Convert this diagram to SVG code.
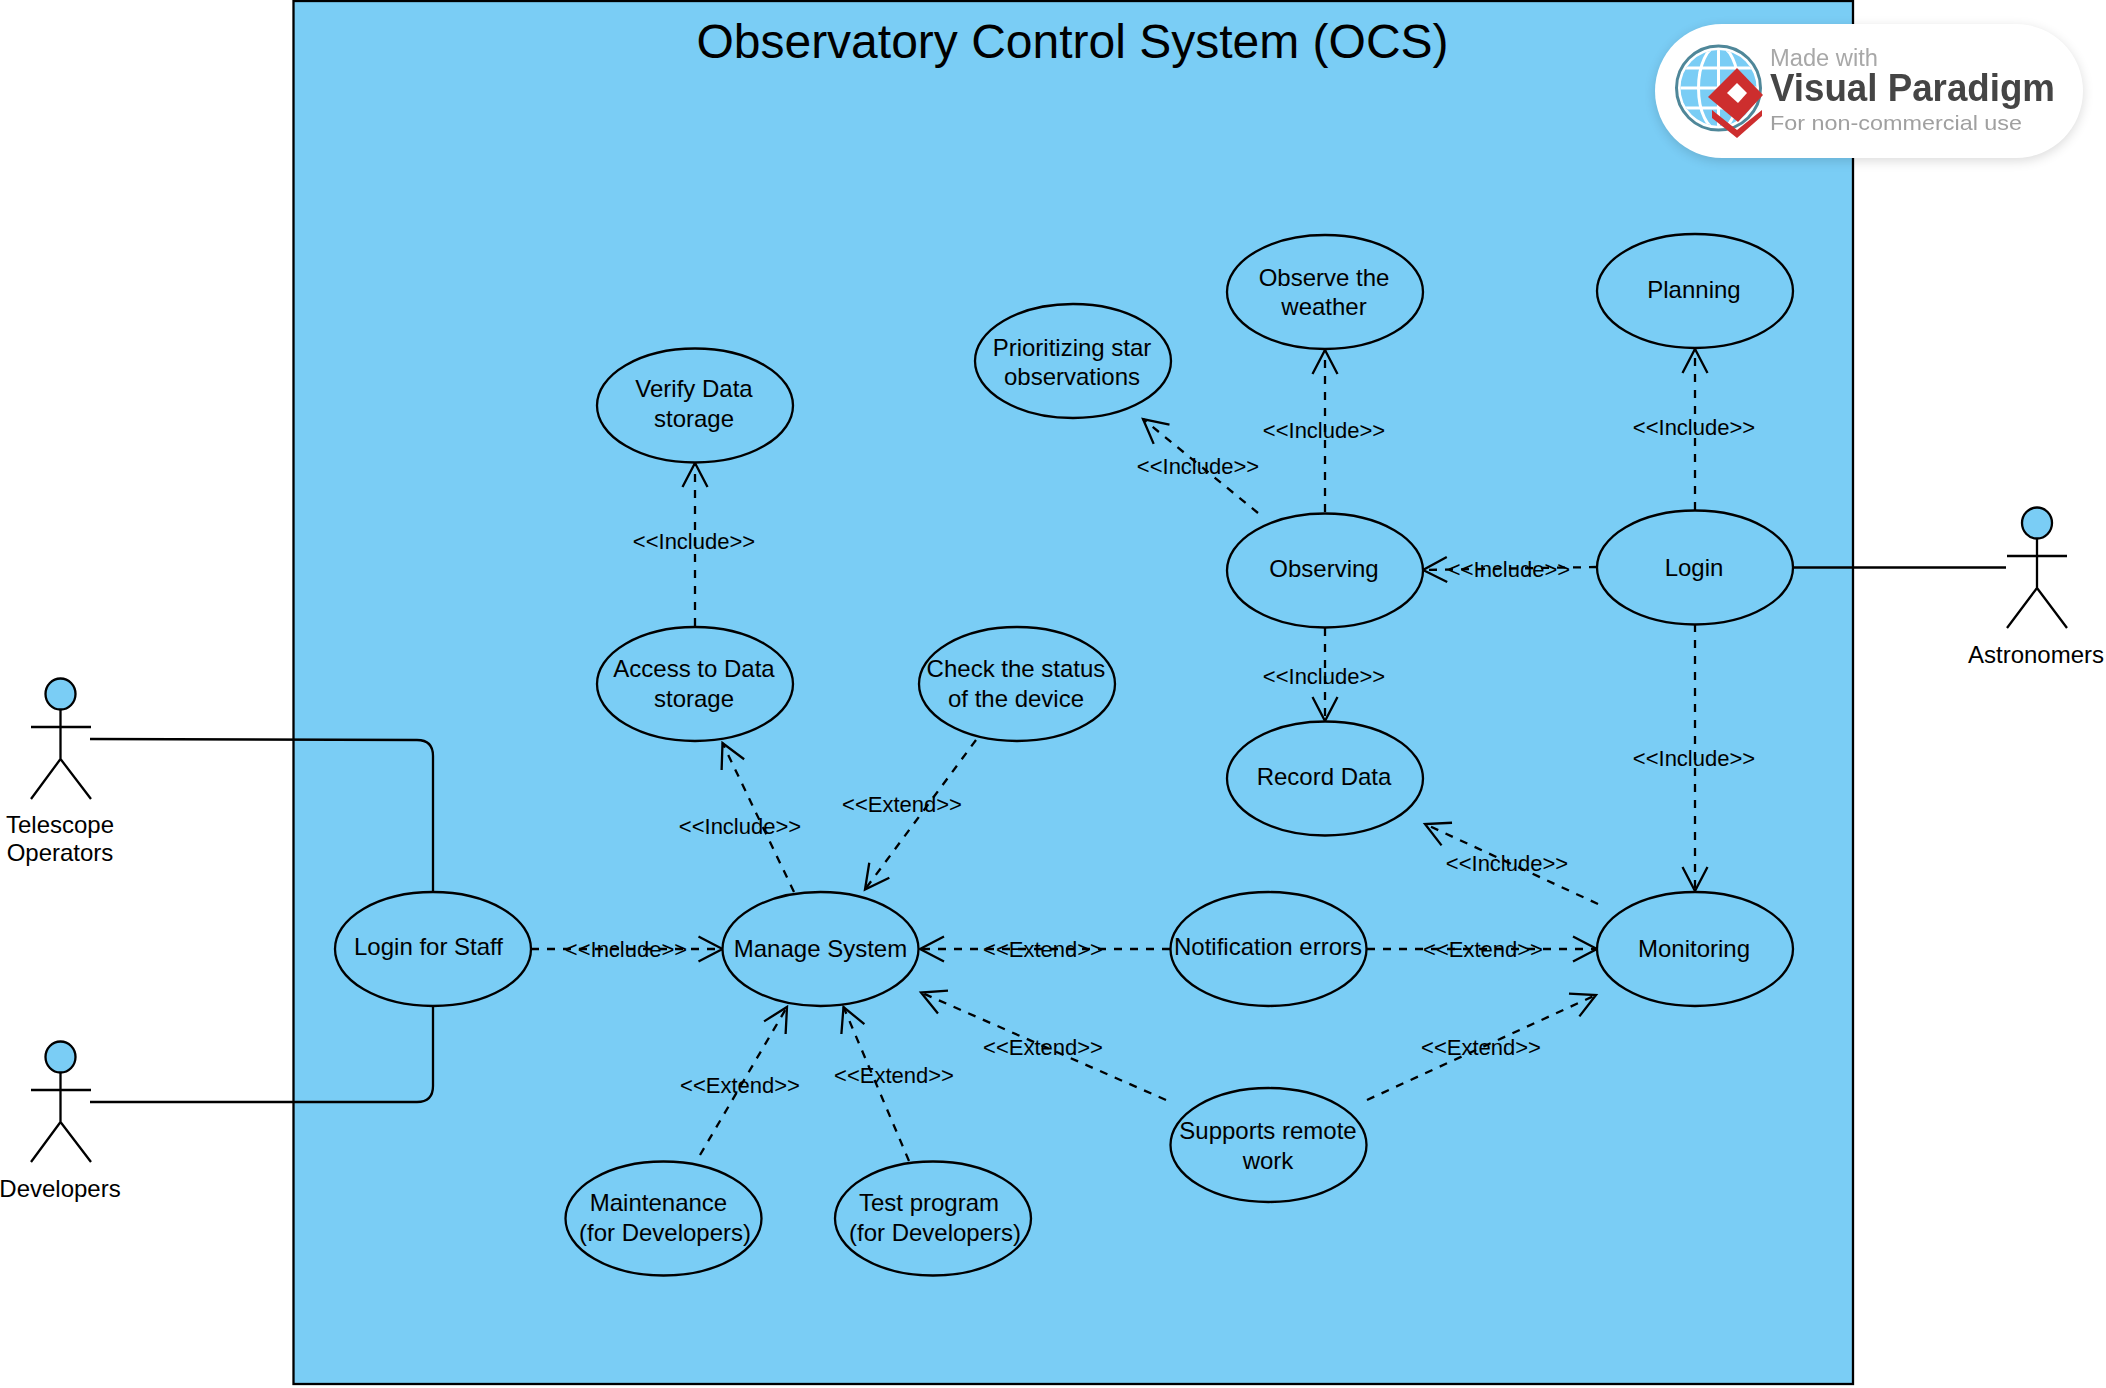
<svg xmlns="http://www.w3.org/2000/svg" width="2106" height="1388" viewBox="0 0 2106 1388">
<style>
text{font-family:"Liberation Sans",Arial,sans-serif;fill:#000;text-anchor:middle}
.n{font-size:24px}
.l{font-size:22px}
.uc ellipse{fill:#7acdf5;stroke:#000;stroke-width:2.3}
.actor ellipse{fill:#7acdf5;stroke:#000;stroke-width:2.3}
.actor path{fill:none;stroke:#000;stroke-width:2.3}
.d{fill:none;stroke:#000;stroke-width:2.3;stroke-dasharray:8 8;marker-end:url(#open)}
.s{fill:none;stroke:#000;stroke-width:2.3}
.wm{text-anchor:start}
</style>
<defs>
<marker id="open" markerUnits="userSpaceOnUse" markerWidth="60" markerHeight="60" refX="30" refY="30" orient="auto" overflow="visible"><path d="M6 17.500L30 30L6 42.500" fill="none" stroke="#000" stroke-width="2.300"/></marker>
<filter id="sh" x="-10%" y="-30%" width="120%" height="160%"><feGaussianBlur stdDeviation="6"/></filter>
<filter id="soft" x="-5%" y="-5%" width="110%" height="110%"><feGaussianBlur stdDeviation="0.6"/></filter>
<clipPath id="gc"><circle cx="1718.500" cy="88" r="38"/></clipPath>
</defs>
<rect width="2106" height="1388" fill="#fff"/>
<g id="boundary"><rect x="293.500" y="1" width="1559.500" height="1383" fill="#7acdf5" stroke="#000" stroke-width="2.300"/><text x="1072.500" y="58" style="font-size:48px">Observatory Control System (OCS)</text></g>
<g id="connectors">
<path class="s" d="M90 739L417 740Q433 740 433 756L433 892"/>
<path class="s" d="M90 1102L417 1102Q433 1102 433 1086L433 1006"/>
<path class="s" d="M1793 567.500L2006 567.500"/>
<path class="d" d="M695 626L695 463"/>
<path class="d" d="M794 892L722.500 743"/>
<path class="d" d="M976 740L865 889.500"/>
<path class="d" d="M531 949L722.500 949"/>
<path class="d" d="M1170 949L920 949"/>
<path class="d" d="M1367 949L1597 949"/>
<path class="d" d="M1166 1100L921 992.500"/>
<path class="d" d="M1367 1100L1596 995"/>
<path class="d" d="M700 1155L787 1007"/>
<path class="d" d="M909 1161L843.500 1007"/>
<path class="d" d="M1258 513L1143 419"/>
<path class="d" d="M1325 512L1325 350"/>
<path class="d" d="M1695 510L1695 349"/>
<path class="d" d="M1597 567L1423 570"/>
<path class="d" d="M1325 628L1325 721"/>
<path class="d" d="M1695 624L1695 891"/>
<path class="d" d="M1598 904L1425 824"/>
</g>
<g id="uc-staff" class="uc"><ellipse cx="433" cy="949" rx="98" ry="57"/><text class="n" x="428.500" y="954.500">Login for Staff</text></g>
<g id="uc-manage" class="uc"><ellipse cx="820.500" cy="949" rx="98" ry="57"/><text class="n" x="820.500" y="957">Manage System</text></g>
<g id="uc-access" class="uc"><ellipse cx="695" cy="684" rx="98" ry="57"/><text class="n" x="694" y="677">Access to Data</text><text class="n" x="694" y="706.500">storage</text></g>
<g id="uc-verify" class="uc"><ellipse cx="695" cy="405.500" rx="98" ry="57"/><text class="n" x="694" y="397">Verify Data</text><text class="n" x="694" y="427">storage</text></g>
<g id="uc-check" class="uc"><ellipse cx="1017" cy="684" rx="98" ry="57"/><text class="n" x="1016" y="677">Check the status</text><text class="n" x="1016" y="706.500">of the device</text></g>
<g id="uc-prior" class="uc"><ellipse cx="1073" cy="361" rx="98" ry="57"/><text class="n" x="1072" y="355.500">Prioritizing star</text><text class="n" x="1072" y="385">observations</text></g>
<g id="uc-weather" class="uc"><ellipse cx="1325" cy="292" rx="98" ry="57"/><text class="n" x="1324" y="285.500">Observe the</text><text class="n" x="1324" y="315">weather</text></g>
<g id="uc-planning" class="uc"><ellipse cx="1695" cy="291" rx="98" ry="57"/><text class="n" x="1694" y="297.500">Planning</text></g>
<g id="uc-observing" class="uc"><ellipse cx="1325" cy="570.500" rx="98" ry="57"/><text class="n" x="1324" y="577">Observing</text></g>
<g id="uc-login" class="uc"><ellipse cx="1695" cy="567.500" rx="98" ry="57"/><text class="n" x="1694" y="575.500">Login</text></g>
<g id="uc-record" class="uc"><ellipse cx="1325" cy="778.500" rx="98" ry="57"/><text class="n" x="1324" y="784.500">Record Data</text></g>
<g id="uc-monitoring" class="uc"><ellipse cx="1695" cy="949" rx="98" ry="57"/><text class="n" x="1694" y="957">Monitoring</text></g>
<g id="uc-notif" class="uc"><ellipse cx="1268.500" cy="949" rx="98" ry="57"/><text class="n" x="1268" y="955">Notification errors</text></g>
<g id="uc-remote" class="uc"><ellipse cx="1268.500" cy="1145" rx="98" ry="57"/><text class="n" x="1268" y="1138.500">Supports remote</text><text class="n" x="1268" y="1169">work</text></g>
<g id="uc-maint" class="uc"><ellipse cx="663.500" cy="1218.500" rx="98" ry="57"/><text class="n" x="658.500" y="1210.500">Maintenance</text><text class="n" x="665" y="1240.500">(for Developers)</text></g>
<g id="uc-test" class="uc"><ellipse cx="933" cy="1218.500" rx="98" ry="57"/><text class="n" x="929" y="1210.500">Test program</text><text class="n" x="935" y="1240.500">(for Developers)</text></g>
<g id="labels">
<text class="l" x="694" y="549">&lt;&lt;Include&gt;&gt;</text>
<text class="l" x="740" y="834">&lt;&lt;Include&gt;&gt;</text>
<text class="l" x="902" y="812">&lt;&lt;Extend&gt;&gt;</text>
<text class="l" x="626" y="957">&lt;&lt;Include&gt;&gt;</text>
<text class="l" x="1043" y="957">&lt;&lt;Extend&gt;&gt;</text>
<text class="l" x="1483" y="957">&lt;&lt;Extend&gt;&gt;</text>
<text class="l" x="1043" y="1055">&lt;&lt;Extend&gt;&gt;</text>
<text class="l" x="1481" y="1055">&lt;&lt;Extend&gt;&gt;</text>
<text class="l" x="740" y="1093">&lt;&lt;Extend&gt;&gt;</text>
<text class="l" x="894" y="1082.500">&lt;&lt;Extend&gt;&gt;</text>
<text class="l" x="1198" y="474">&lt;&lt;Include&gt;&gt;</text>
<text class="l" x="1324" y="438">&lt;&lt;Include&gt;&gt;</text>
<text class="l" x="1694" y="435">&lt;&lt;Include&gt;&gt;</text>
<text class="l" x="1509" y="577">&lt;&lt;Include&gt;&gt;</text>
<text class="l" x="1324" y="684">&lt;&lt;Include&gt;&gt;</text>
<text class="l" x="1694" y="766">&lt;&lt;Include&gt;&gt;</text>
<text class="l" x="1507" y="871">&lt;&lt;Include&gt;&gt;</text>
</g>
<g id="actor-telescope" class="actor"><ellipse cx="60.500" cy="694" rx="15" ry="15.500"/><path d="M60.500 709.500V759M31 727H91M60.500 759L31 799M60.500 759L91 799"/><text class="n" x="60" y="833">Telescope</text><text class="n" x="60" y="861">Operators</text></g>
<g id="actor-developers" class="actor"><ellipse cx="60.500" cy="1057" rx="15" ry="15.500"/><path d="M60.500 1072.500V1122M31 1090H91M60.500 1122L31 1162M60.500 1122L91 1162"/><text class="n" x="60" y="1197">Developers</text></g>
<g id="actor-astronomers" class="actor"><ellipse cx="2037" cy="523" rx="15" ry="15.500"/><path d="M2037 538.500V588M2007 556H2067M2037 588L2007 628M2037 588L2067 628"/><text class="n" x="2036" y="663">Astronomers</text></g>
<g id="watermark">
<rect x="1655" y="27" width="428" height="134" rx="67" fill="#000" opacity=".14" filter="url(#sh)"/>
<rect x="1655" y="24" width="428" height="134" rx="67" fill="#fff"/>
<g filter="url(#soft)">
<circle cx="1718.500" cy="88" r="42" fill="none" stroke="#4f8799" stroke-width="3"/>
<circle cx="1718.500" cy="88" r="38" fill="#7acdf5"/>
<g clip-path="url(#gc)" fill="none" stroke="#fff" stroke-width="3"><path d="M1675 68H1765M1675 88H1765M1675 108H1765M1718.500 45V135"/><ellipse cx="1718.500" cy="88" rx="20" ry="42"/></g>
<path d="M1737 68L1763 95L1738 122L1708 97Z" fill="#cd2f2f"/><path d="M1712 110L1737 130L1762 110L1762 116L1737 138L1712 118Z" fill="#cd2f2f"/><path d="M1727 93L1737 83L1747 93L1738 103Z" fill="#fff"/>
<text class="wm" x="1770" y="66" textLength="108" lengthAdjust="spacingAndGlyphs" style="font-size:23px;fill:#a8a8a8">Made with</text>
<text class="wm" x="1770" y="101" textLength="285" lengthAdjust="spacingAndGlyphs" style="font-size:38px;font-weight:bold;fill:#454545">Visual Paradigm</text>
<text class="wm" x="1770" y="130" textLength="252" lengthAdjust="spacingAndGlyphs" style="font-size:21px;fill:#a0a0a0">For non-commercial use</text>
</g>
</g>
</svg>
